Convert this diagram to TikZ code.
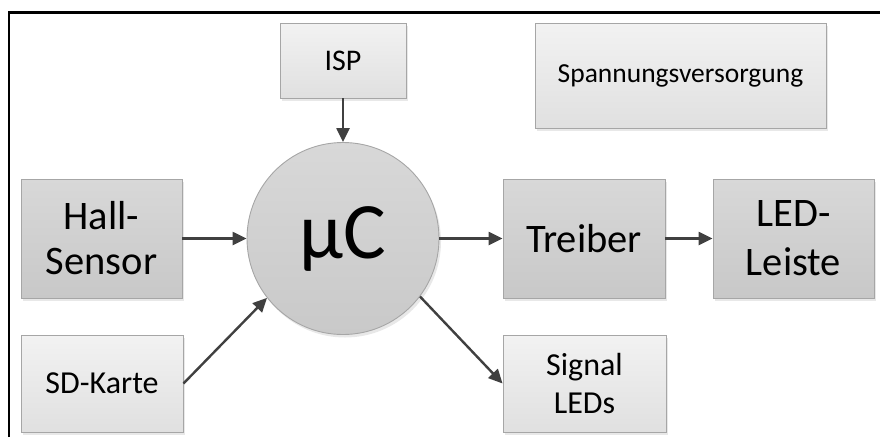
\documentclass[tikz,border=0pt]{standalone}
\usepackage{fontspec}
\setmainfont{Carlito}
\usetikzlibrary{arrows.meta,shadows}
\definecolor{arr}{HTML}{404040}
\definecolor{boxline}{HTML}{A6A6A6}
\definecolor{dtop}{HTML}{D8D8D8}
\definecolor{dbot}{HTML}{C8C8C8}
\definecolor{ltop}{HTML}{F2F2F2}
\definecolor{lbot}{HTML}{E0E0E0}
\definecolor{ctop}{HTML}{D8D8D8}
\definecolor{cbot}{HTML}{C9C9C9}
\begin{document}
\begin{tikzpicture}[x=1pt,y=-1pt,
  box/.style={draw=boxline, line width=0.9pt, rectangle, inner sep=0pt, align=center,
    drop shadow={shadow xshift=2pt,shadow yshift=-3pt,opacity=0.18}},
  darkbox/.style={box, top color=dtop, bottom color=dbot},
  lightbox/.style={box, top color=ltop, bottom color=lbot},
  conn/.style={draw=arr, line width=2.4pt, -{Triangle[length=14pt,width=13pt]}}]
\useasboundingbox (0,0) rectangle (880,437);
\draw[line width=2.6pt] (8.8,437) -- (8.8,12.5) -- (880,12.5);

\node[circle, draw=boxline, line width=0.9pt, top color=ctop, bottom color=cbot,
  minimum size=192pt, inner sep=0pt,
  drop shadow={shadow xshift=2pt,shadow yshift=-3pt,opacity=0.18},
  font=\fontsize{80}{80}\selectfont] (mu) at (343,238.5) {µC};

\node[darkbox, minimum width=161pt, minimum height=119pt,
  font=\fontsize{40.5}{45}\selectfont] (hall) at (101.5,238.5) {Hall-\\Sensor};
\node[darkbox, minimum width=162pt, minimum height=119pt,
  font=\fontsize{40.5}{45}\selectfont] (treiber) at (584,238.5) {Treiber};
\node[darkbox, minimum width=161pt, minimum height=119pt,
  font=\fontsize{40.5}{49}\selectfont] (led) at (793.5,238.5) {LED-\\Leiste};

\node[lightbox, minimum width=126pt, minimum height=75pt,
  font=\fontsize{30}{30}\selectfont] (isp) at (343,60.5) {ISP};
\node[lightbox, minimum width=291pt, minimum height=105pt,
  font=\fontsize{27.5}{30}\selectfont] (sv) at (680.5,75.5) {Spannungsversorgung};
\node[lightbox, minimum width=162pt, minimum height=97pt,
  font=\fontsize{32}{32}\selectfont] (sd) at (102,383.5) {SD-Karte};
\node[lightbox, minimum width=163pt, minimum height=97pt,
  font=\fontsize{32}{38}\selectfont] (sig) at (584.5,383.5) {Signal\\LEDs};

\draw[conn] (isp.south) -- (mu.north);
\draw[conn] (hall.east) -- (mu.west);
\draw[conn] (mu.east) -- (treiber.west);
\draw[conn] (treiber.east) -- (led.west);
\draw[conn] (sd.east) -- (mu.218);
\draw[conn] (mu.-37.5) -- (sig.west);
\end{tikzpicture}
\end{document}
